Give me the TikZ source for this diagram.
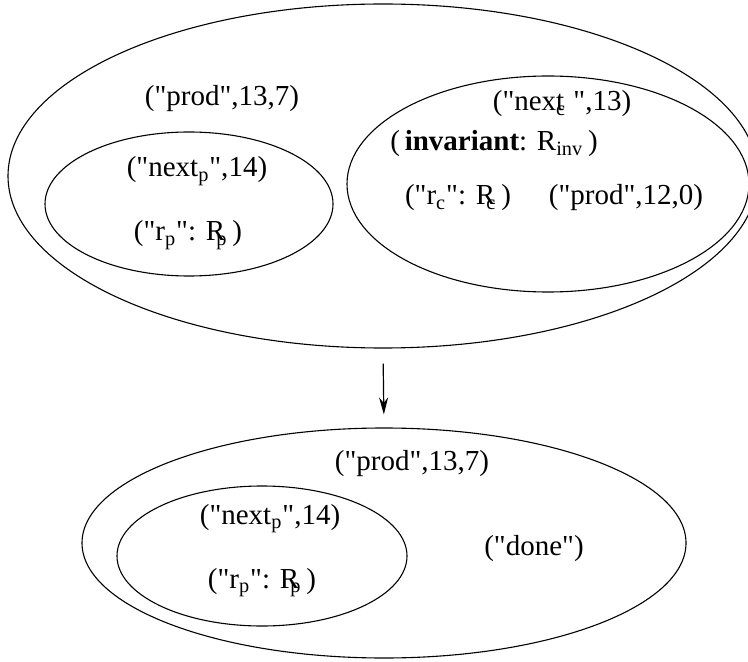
\documentclass[tikz,border=0pt]{standalone}
\usepackage{fontspec}
\newfontfamily\tfont{Liberation Serif}
\usetikzlibrary{shapes.geometric,arrows.meta}
\begin{document}
\begin{tikzpicture}[x=0.5pt,y=-0.5pt,
  region/.style={draw, ellipse, line width=0.55pt, inner sep=0pt},
  lbl/.style={inner sep=0pt, anchor=base, font=\tfont\fontsize{14.5}{17}\selectfont},
  flow/.style={-{Stealth[length=8.5pt,width=4.5pt]}, line width=0.6pt}]
\useasboundingbox (0,0) rectangle (748,662);
\clip (0,0) rectangle (748,662);
% upper state
\node[region, minimum width=375pt, minimum height=172pt] (E1) at (383,176) {};
\node[region, minimum width=144pt, minimum height=72pt] (E2) at (189,204) {};
\node[region, minimum width=201pt, minimum height=108pt] (E3) at (548,184) {};
\node[lbl] (T1) at (222,106) {("prod",13,7)};
\node[lbl] (T2) at (562,111) {("next\kern-0.28em\textsubscript{c}\ ",13)};
\node[lbl] (T3) at (494,151) {(\,\textbf{invariant}: R\textsubscript{inv}\,)};
\node[lbl] (T4) at (458,205) {("r\textsubscript{c}": R\kern-0.3em\textsubscript{c}\,)};
\node[lbl] (T5) at (626,205) {("prod",12,0)};
\node[lbl] (T6) at (197,177) {("next\textsubscript{p}",14)};
\node[lbl] (T7) at (188,241) {("r\textsubscript{p}": R\kern-0.3em\textsubscript{p}\,)};
% lower state
\node[region, minimum width=302pt, minimum height=115pt] (E4) at (384,543) {};
\node[region, minimum width=145pt, minimum height=70pt] (E5) at (262,556) {};
\node[lbl] (B1) at (412,470) {("prod",13,7)};
\node[lbl] (B2) at (270,524) {("next\textsubscript{p}",14)};
\node[lbl] (B3) at (262,588) {("r\textsubscript{p}": R\kern-0.3em\textsubscript{p}\,)};
\node[lbl] (B4) at (534,555) {("done")};
% transition
\draw[flow, shorten <=7.5pt, shorten >=6.5pt] (E1.south) -- (E4.north);
\end{tikzpicture}
\end{document}
